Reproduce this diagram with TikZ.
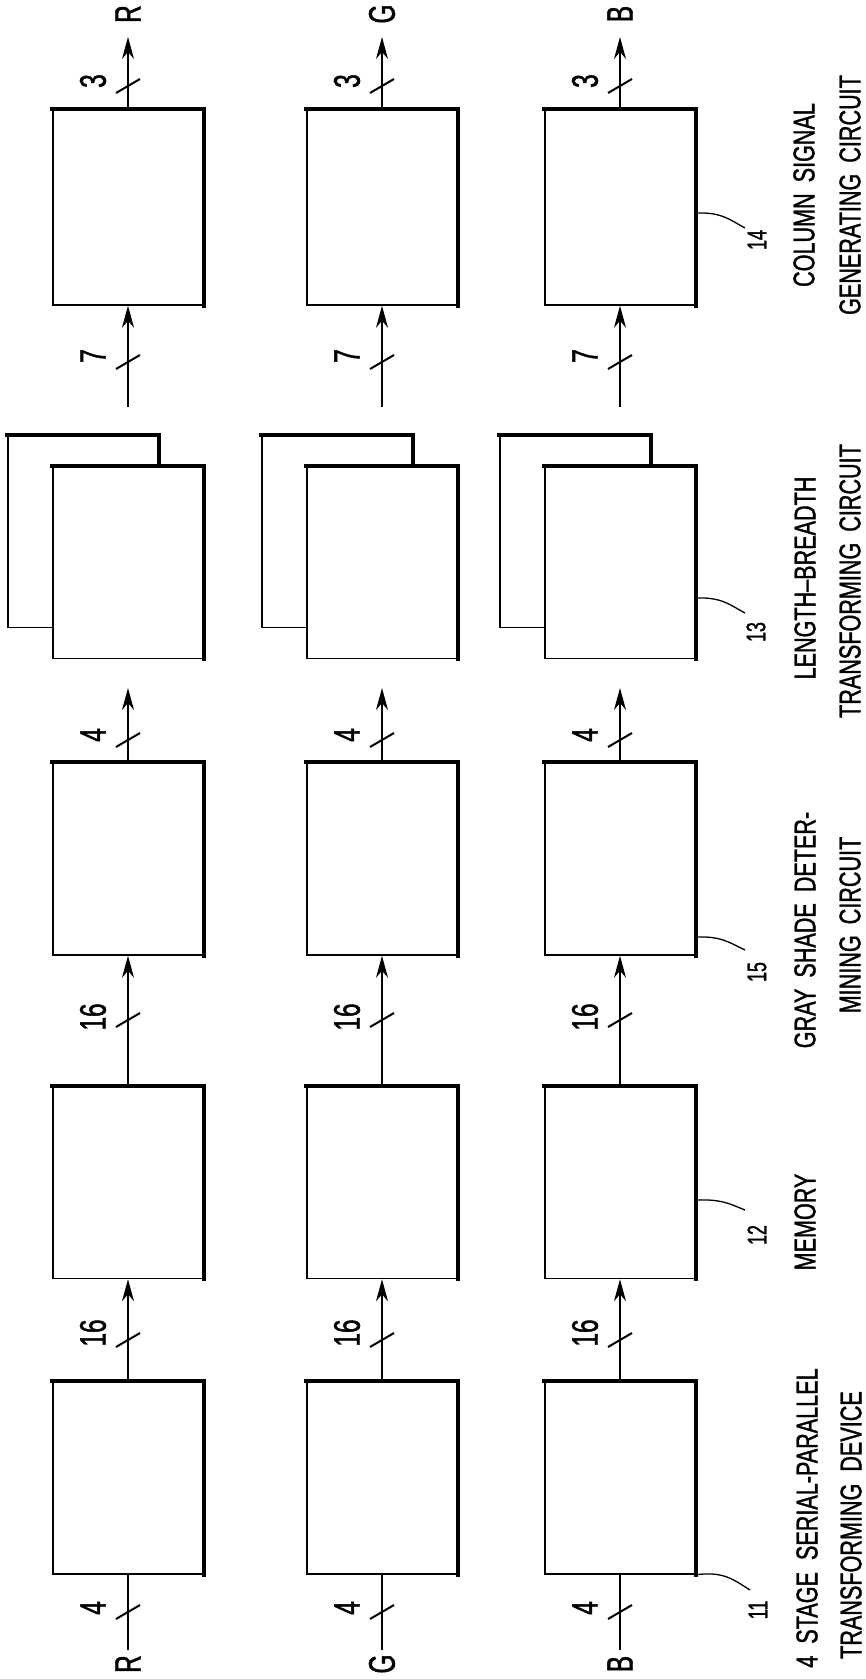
\documentclass[tikz,border=0pt]{standalone}
\usepackage{fontspec}
\newfontfamily\pat[FakeStretch=0.72,FakeBold=1.2]{Liberation Sans}
\newfontfamily\patn[FakeStretch=0.66,FakeBold=1.2]{Liberation Sans}
\usetikzlibrary{arrows.meta}
\begin{document}
\begin{tikzpicture}[x=1pt,y=-1pt,
  blk/.style={draw, line width=1.5pt, minimum width=150pt, minimum height=192pt, inner sep=0pt, fill=white},
  heavy/.style={line width=3.8pt, line cap=rect},
  conn/.style={line width=1.5pt},
  arr/.style={conn, -{Stealth[length=22pt,width=12pt,inset=7pt]}},
  busmark/.style={line width=2pt},
  buslbl/.style={font=\patn\fontsize{37}{37}\selectfont, rotate=90, inner sep=0pt},
  callout/.style={font=\patn\fontsize{27}{27}\selectfont, rotate=90, inner sep=0pt},
  caption/.style={font=\pat\fontsize{30}{36}\selectfont, rotate=90, inner sep=0pt},
  lead/.style={line width=1.3pt}
]
\useasboundingbox (0,0) rectangle (866,1679);

\foreach \ch/\x/\lx in {R/128/93,G/382/347,B/620/585}{
  % column 1
  \node[blk] (c1\ch) at (\x,1478) {};
  \draw[heavy] (c1\ch.north west) -- (c1\ch.north east) -- (c1\ch.south east);
  % column 2
  \node[blk] (c2\ch) at (\x,1182.5) {};
  \draw[heavy] (c2\ch.north west) -- (c2\ch.north east) -- (c2\ch.south east);
  % column 3
  \node[blk] (c3\ch) at (\x,859) {};
  \draw[heavy] (c3\ch.north west) -- (c3\ch.north east) -- (c3\ch.south east);
  % column 4 (two stacked boxes)
  \node[blk] (c4b\ch) at (\x-45,531.5) {};
  \draw[heavy] (c4b\ch.north west) -- (c4b\ch.north east) -- (c4b\ch.south east);
  \node[blk] (c4\ch) at (\x,562.5) {};
  \draw[heavy] (c4\ch.north west) -- (c4\ch.north east) -- (c4\ch.south east);
  % column 5
  \node[blk, minimum height=195pt] (c5\ch) at (\x,207.5) {};
  \draw[heavy] (c5\ch.north west) -- (c5\ch.north east) -- (c5\ch.south east);

  % free ends
  \coordinate (in\ch) at (\x,1650);
  \coordinate (t4\ch) at (\x,688);
  \coordinate (s5\ch) at (\x,407);
  \coordinate (out\ch) at (\x,37);

  % connectors
  \draw[conn] (in\ch) -- (c1\ch.south);
  \draw[arr] (c1\ch.north) -- (c2\ch.south);
  \draw[arr] (c2\ch.north) -- (c3\ch.south);
  \draw[arr] (c3\ch.north) -- (t4\ch);
  \draw[arr] (s5\ch) -- (c5\ch.south);
  \draw[arr] (c5\ch.north) -- (out\ch);

  % bus width marks
  \draw[busmark] (\x-12,1619) -- (\x+12,1605);
  \draw[busmark] (\x-12,1347) -- (\x+12,1333);
  \draw[busmark] (\x-12,1027) -- (\x+12,1013);
  \draw[busmark] (\x-12,747) -- (\x+12,733);
  \draw[busmark] (\x-12,369) -- (\x+12,355);
  \draw[busmark] (\x-12,93) -- (\x+12,79);

  \node[buslbl] (n1\ch) at (\lx,1608) {4};
  \node[buslbl] (n2\ch) at (\lx,1333) {16};
  \node[buslbl] (n3\ch) at (\lx,1017) {16};
  \node[buslbl] (n4\ch) at (\lx,735) {4};
  \node[buslbl] (n5\ch) at (\lx,356) {7};
  \node[buslbl] (n6\ch) at (\lx,81) {3};

  \node[buslbl] (lin\ch) at (\x,1664) {\ch};
  \node[buslbl] (lout\ch) at (\x,14) {\ch};
}

% leaders and reference numerals
\coordinate (l14) at (745,228);
\coordinate (l13) at (745,613);
\coordinate (l15) at (745,950);
\coordinate (l12) at (745,1210);
\coordinate (l11) at (750,1590);
\draw[lead] (c5B.east |- 0,213) .. controls (722,212) and (730,220) .. (l14);
\draw[lead] (c4B.east |- 0,598) .. controls (722,597) and (730,605) .. (l13);
\draw[lead] (c3B.east |- 0,937) .. controls (722,936) and (730,943) .. (l15);
\draw[lead] (c2B.east |- 0,1200) .. controls (722,1199) and (730,1204) .. (l12);
\draw[lead] (c1B.south east) .. controls (724,1571) and (734,1580) .. (l11);

\node[callout] (r14) at (757,240) {14};
\node[callout] (r13) at (756,632) {13};
\node[callout] (r15) at (757,972) {15};
\node[callout] (r12) at (757,1235) {12};
\node[callout] (r11) at (758,1610) {11};

\node[caption] (cap14a) at (804,195) {COLUMN\ \,SIGNAL};
\node[caption] (cap14b) at (850,195) {GENERATING\ \,CIRCUIT};
\node[caption] (cap13a) at (805,578) {LENGTH–BREADTH};
\node[caption] (cap13b) at (850,581) {TRANSFORMING\ \,CIRCUIT};
\node[caption] (cap15a) at (805,930) {GRAY\ \,SHADE\ \,DETER-};
\node[caption] (cap15b) at (850,925) {MINING\ \,CIRCUIT};
\node[caption] (cap12) at (805,1222) {MEMORY};
\node[caption] (cap11a) at (807,1518) {4\ \ STAGE\ \ SERIAL-PARALLEL};
\node[caption] (cap11b) at (851,1525) {TRANSFORMING\ \ DEVICE};
\end{tikzpicture}
\end{document}
